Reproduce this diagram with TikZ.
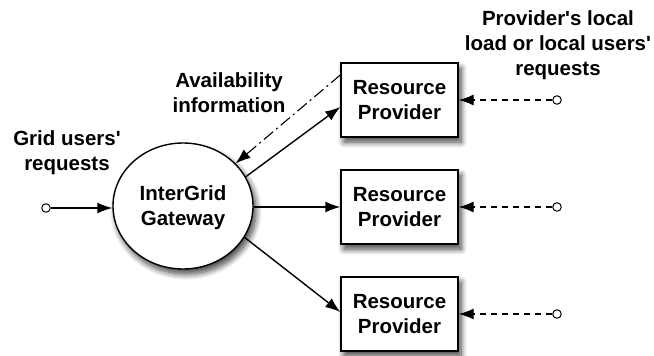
\documentclass[tikz,border=0pt]{standalone}
\usepackage{fontspec}
\setmainfont{Liberation Sans}
\usetikzlibrary{shapes.geometric, shadows.blur, arrows.meta, positioning}
\definecolor{BLACK}{HTML}{000000}
\tikzset{
  txt/.style={font=\fontsize{20.5}{25}\selectfont\bfseries, align=center, inner sep=0pt},
  gate/.style={ellipse, draw=BLACK, line width=1.4pt, fill=white, minimum width=140pt, minimum height=126pt, inner sep=0pt,
    blur shadow={shadow xshift=3pt, shadow yshift=-5pt, shadow blur radius=6pt, shadow blur steps=10, shadow opacity=75}},
  provbox/.style={rectangle, draw=BLACK, line width=1.4pt, fill=white, minimum width=117pt, minimum height=74pt, inner sep=0pt,
    blur shadow={shadow xshift=3pt, shadow yshift=-5pt, shadow blur radius=6pt, shadow blur steps=10, shadow opacity=75}},
  port/.style={circle, draw=BLACK, line width=1pt, fill=white, minimum size=8.5pt, inner sep=0pt},
  flow/.style={BLACK, line width=1.4pt, -{Latex[length=15pt, width=11pt]}},
}
\newcommand{\apos}{\textquotesingle}
\begin{document}
\begin{tikzpicture}[x=1pt, y=-1pt]
    \useasboundingbox (0,0) rectangle (654,356);
    % gateway and providers
    \node[gate] (gw) at (183,206) {};
    \node[txt] at (183,208) {InterGrid\\Gateway};
    \node[provbox] (rp1) at (399.5,100) {};
    \node[provbox] (rp2) at (399.5,207) {};
    \node[provbox] (rp3) at (399.5,314) {};
    \node[txt] at (rp1) {Resource\\Provider};
    \node[txt] at (rp2) {Resource\\Provider};
    \node[txt] at (rp3) {Resource\\Provider};
    %
    \node[port] (in) at (46,208) {};
    \draw[flow] (in) -- (gw.west |- in);
    \node[txt] (users) at (67,153) {Grid users\apos\\requests};
    %
    \draw[flow] (gw.25) -- ([yshift=-7pt]rp1.west);
    \draw[flow] (gw.east |- rp2) -- (rp2.west);
    \draw[flow] (gw.-27) -- ([yshift=2pt]rp3.west);
    %
    \draw[BLACK, line width=1.1pt, dash pattern=on 12pt off 4pt on 2pt off 4pt, -{Latex[length=15pt, width=11pt]}] ([yshift=25pt]rp1.west) -- (gw.39);
    \node[txt] (avail) at (229,93) {Availability\\information};
    %
    \foreach \i in {1,2,3} {
      \node[port] (loc\i) at (557,0 |- rp\i) {};
      \draw[BLACK, line width=1.1pt, dash pattern=on 6pt off 5pt, -{Latex[length=15pt, width=11pt]}] (loc\i) -- (rp\i.east);
    }
    \node[txt] (local) at (558,45) {Provider\apos s local\\load or local users\apos\\requests};
\end{tikzpicture}
\end{document}
